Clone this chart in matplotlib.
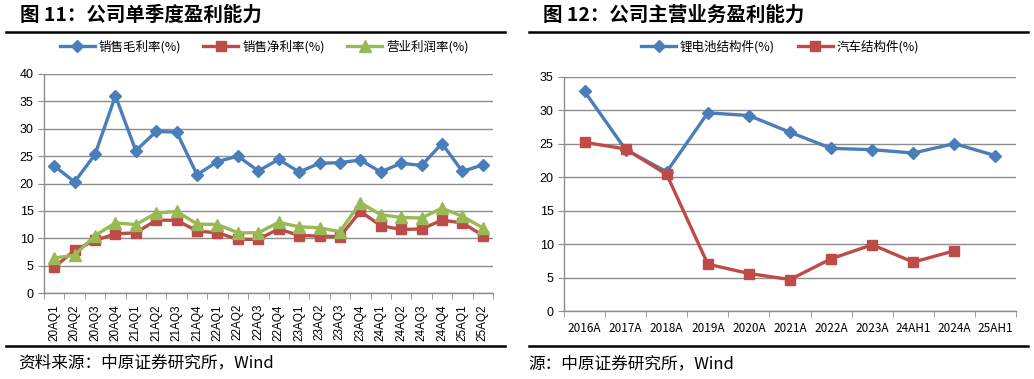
import matplotlib
matplotlib.use("Agg")
import matplotlib.pyplot as plt
from matplotlib.lines import Line2D
import numpy as np

plt.rcParams["font.family"] = ["Noto Sans CJK SC", "DejaVu Sans"]

# 图11 data
quarters = ["20AQ1", "20AQ2", "20AQ3", "20AQ4", "21AQ1", "21AQ2", "21AQ3", "21AQ4",
            "22AQ1", "22AQ2", "22AQ3", "22AQ4", "23AQ1", "23AQ2", "23AQ3", "23AQ4",
            "24AQ1", "24AQ2", "24AQ3", "24AQ4", "25AQ1", "25AQ2"]
gross_margin = [23.2, 20.3, 25.3, 36.0, 26.0, 29.5, 29.4, 21.6, 24.0, 25.0, 22.3,
                24.4, 22.1, 23.7, 23.8, 24.3, 22.1, 23.7, 23.3, 27.3, 22.2, 23.4]
net_margin = [4.7, 7.8, 9.6, 10.8, 11.0, 13.3, 13.3, 11.3, 11.0, 9.8, 9.8,
              11.7, 10.5, 10.4, 10.3, 14.9, 12.3, 11.6, 11.7, 13.3, 12.8, 10.5]
op_margin = [6.4, 6.9, 10.5, 12.8, 12.5, 14.6, 14.9, 12.6, 12.5, 11.0, 11.0,
             12.9, 12.1, 11.9, 11.2, 16.5, 14.3, 13.8, 13.7, 15.5, 14.0, 11.9]

# 图12 data
years = ["2016A", "2017A", "2018A", "2019A", "2020A", "2021A", "2022A", "2023A",
         "24AH1", "2024A", "25AH1"]
battery_parts = [32.8, 24.1, 20.8, 29.6, 29.2, 26.7, 24.3, 24.1, 23.6, 25.0, 23.2]
auto_parts = [25.2, 24.2, 20.4, 7.0, 5.6, 4.7, 7.8, 9.9, 7.3, 9.0, np.nan]

BLUE = "#4A7EBB"
RED = "#BE4B48"
GREEN = "#98B954"
GRID = "#8C8C8C"

W, H = 1034, 379
fig = plt.figure(figsize=(W / 100, H / 100), dpi=100)


def px_axes(x0, y_top, x1, y_bot):
    return fig.add_axes([x0 / W, 1 - y_bot / H, (x1 - x0) / W, (y_bot - y_top) / H])


def style_axes(ax, n, ymax):
    ax.set_xlim(-0.5, n - 0.5)
    ax.set_ylim(0, ymax)
    ax.set_yticks(np.arange(0, ymax + 1, 5))
    ax.yaxis.grid(True, color=GRID, linewidth=1.0)
    ax.set_axisbelow(True)
    for s in ["top", "right"]:
        ax.spines[s].set_visible(False)
    for s in ["left", "bottom"]:
        ax.spines[s].set_color(GRID)
        ax.spines[s].set_linewidth(1.0)
    ax.set_xticks(np.arange(-0.5, n, 1.0), minor=True)
    ax.tick_params(axis="x", which="major", length=0)
    ax.tick_params(axis="x", which="minor", length=4, color=GRID, direction="out")
    ax.tick_params(axis="y", length=4, color=GRID, direction="out")


def frame_lines(x0, x1):
    fig.add_artist(Line2D([x0 / W, x1 / W], [1 - 32 / H] * 2, color="black", lw=1.8))
    fig.add_artist(Line2D([x0 / W, x1 / W], [1 - 346 / H] * 2, color="black", lw=1.8))


line_kw = dict(linewidth=2.4)

# ---- left chart ----
ax1 = px_axes(44, 74, 493, 293)
x1 = np.arange(len(quarters))
ax1.plot(x1, gross_margin, color=BLUE, marker="D", markersize=6.5, label="销售毛利率(%)", **line_kw)
ax1.plot(x1, net_margin, color=RED, marker="s", markersize=7, label="销售净利率(%)", **line_kw)
ax1.plot(x1, op_margin, color=GREEN, marker="^", markersize=8.5, label="营业利润率(%)", **line_kw)
style_axes(ax1, len(quarters), 40)
ax1.set_xticks(x1)
ax1.set_xticklabels(quarters, rotation=90, family=["Liberation Sans"], fontsize=8.5)
ax1.tick_params(axis="x", which="major", pad=8)
for t in ax1.get_yticklabels():
    t.set_family(["Liberation Sans"])
    t.set_fontsize(9)
ax1.legend(loc="center", bbox_to_anchor=(264 / W, 1 - 47 / H), bbox_transform=fig.transFigure,
           ncol=3, frameon=False, fontsize=9, handlelength=2.8, columnspacing=1.8,
           handletextpad=0.3)

fig.text(20 / W, 1 - 15 / H, "图 11：公司单季度盈利能力", fontsize=14, fontweight="bold",
         va="center", ha="left")
fig.text(18 / W, 1 - 363 / H, "资料来源：中原证券研究所，Wind", fontsize=12,
         va="center", ha="left")
frame_lines(6, 505)

# ---- right chart ----
ax2 = px_axes(564, 76.7, 1016, 311)
x2 = np.arange(len(years))
ax2.plot(x2, battery_parts, color=BLUE, marker="D", markersize=6.5, label="锂电池结构件(%)", **line_kw)
ax2.plot(x2, auto_parts, color=RED, marker="s", markersize=7.5, label="汽车结构件(%)", **line_kw)
style_axes(ax2, len(years), 35)
ax2.set_xticks(x2)
ax2.set_xticklabels(years, fontsize=8.5)
for t in ax2.get_yticklabels():
    t.set_family(["Liberation Sans"])
    t.set_fontsize(9)
ax2.tick_params(axis="x", pad=8)
ax2.legend(loc="center", bbox_to_anchor=(780 / W, 1 - 47 / H), bbox_transform=fig.transFigure,
           ncol=2, frameon=False, fontsize=9, handlelength=2.8, columnspacing=1.8,
           handletextpad=0.3)

fig.text(543 / W, 1 - 15 / H, "图 12：公司主营业务盈利能力", fontsize=14, fontweight="bold",
         va="center", ha="left")
fig.text(528 / W, 1 - 364 / H, "源：中原证券研究所，Wind", fontsize=12,
         va="center", ha="left")
frame_lines(529, 1028)

fig.savefig("out.png", dpi=100, facecolor="white")
